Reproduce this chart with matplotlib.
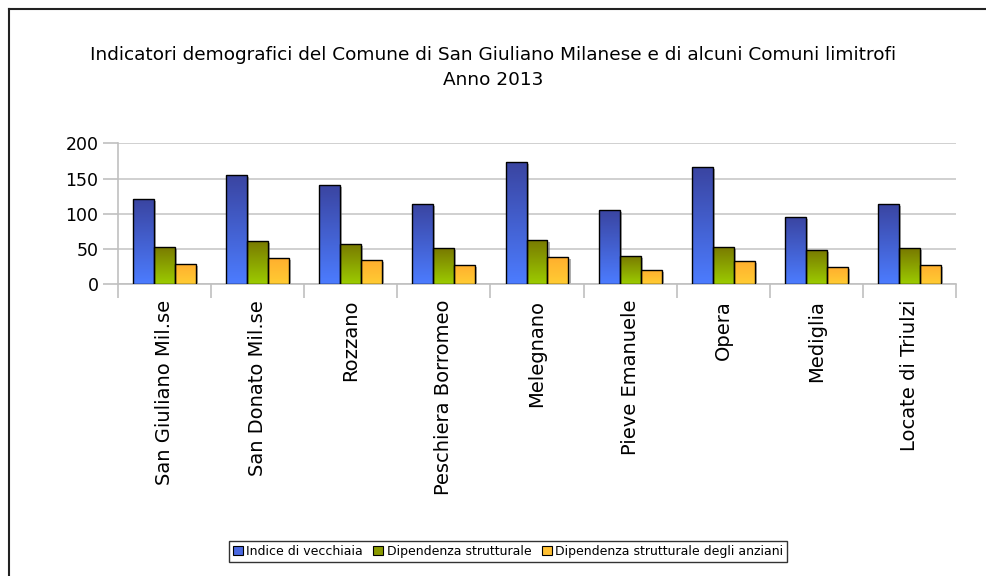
import numpy as np
import matplotlib
matplotlib.use("Agg")
import matplotlib.pyplot as plt
from matplotlib.colors import LinearSegmentedColormap
from matplotlib.patches import Patch
from matplotlib.lines import Line2D
import matplotlib.patheffects as pe

categories = ["San Giuliano Mil.se", "San Donato Mil.se", "Rozzano", "Peschiera Borromeo",
              "Melegnano", "Pieve Emanuele", "Opera", "Mediglia", "Locate di Triulzi"]
series_names = ["Indice di vecchiaia", "Dipendenza strutturale",
                "Dipendenza strutturale degli anziani"]
vecchiaia = [121, 155.5, 140.5, 114, 173.5, 105.5, 166.5, 95.5, 113.5]
dipendenza = [52.5, 61.5, 57.5, 51, 62.5, 40, 53.5, 48.5, 51]
anziani = [29, 37.5, 34, 27, 39, 20.5, 33.5, 24, 27]
yticks = [0, 50, 100, 150, 200]
title = "Indicatori demografici del Comune di San Giuliano Milanese e di alcuni Comuni limitrofi\nAnno 2013"

grad_colors = [("#3a44a0", "#4c7cff"), ("#787800", "#9ccc00"), ("#ffae2e", "#ffcc33")]
legend_colors = ["#4a68e0", "#8a9a00", "#ffc033"]

fig = plt.figure(figsize=(9.86, 5.76), dpi=100)
ax = fig.add_axes([118 / 986, 1 - 284.3 / 576, 838 / 986, 141 / 576])

n = len(categories)
x = np.arange(n)
bw = 0.225
series = [vecchiaia, dipendenza, anziani]
for i, vals in enumerate(series):
    cmap = LinearSegmentedColormap.from_list("g%d" % i, [grad_colors[i][1], grad_colors[i][0]])
    pos = x + (i - 1) * bw
    # shadow layer
    ax.bar(pos, vals, width=bw, color="none", edgecolor="none", zorder=2,
           path_effects=[pe.SimplePatchShadow(offset=(1.5, -1.5), shadow_rgbFace="#777777", alpha=0.6)])
    bars = ax.bar(pos, vals, width=bw, color="none", edgecolor="black",
                  linewidth=1.0, zorder=5)
    for b in bars:
        x0, y0 = b.get_x(), b.get_y()
        w, h = b.get_width(), b.get_height()
        grad = np.linspace(0, 1, 256).reshape(-1, 1)
        im = ax.imshow(grad, cmap=cmap, origin="lower", aspect="auto",
                       extent=[x0, x0 + w, y0, y0 + h], zorder=3, interpolation="bilinear")
        im.set_clip_path(b)

ax.set_xlim(-0.5, n - 0.5)
ax.set_ylim(0, 200)
ax.set_yticks(yticks)
ax.set_yticklabels([str(t) for t in yticks], fontsize=12.5)
ax.yaxis.grid(True, color="#c8c8c8", linewidth=1.2, zorder=0)
ax.set_axisbelow(True)
ax.tick_params(axis="y", length=11, color="#c0c0c0", width=1.2, pad=3)

ax.set_xticks(np.arange(n + 1) - 0.5, minor=False)
ax.set_xticklabels([""] * (n + 1))
ax.tick_params(axis="x", length=10, color="#c0c0c0", width=1.2)
for xi, lab in zip(x, categories):
    ax.text(xi, -22, lab, rotation=90, ha="center", va="top", fontsize=14)

for s in ["top", "right"]:
    ax.spines[s].set_visible(False)
for s in ["left", "bottom"]:
    ax.spines[s].set_color("#c0c0c0")
    ax.spines[s].set_linewidth(1.2)

fig.text(0.5, 1 - 67.5 / 576, title, ha="center", va="center", fontsize=13.3, linespacing=1.45)

handles = [Patch(facecolor=c, edgecolor="black", linewidth=0.8) for c in legend_colors]
leg = fig.legend(handles, series_names, loc="center", bbox_to_anchor=(508 / 986, 1 - 551.5 / 576),
                 ncol=3, fontsize=9, frameon=True, fancybox=False, handlelength=0.8,
                 handleheight=0.8, handletextpad=0.3, columnspacing=0.8, borderpad=0.3)
leg.get_frame().set_edgecolor("black")
leg.get_frame().set_linewidth(1.0)

fig.add_artist(Line2D([9 / 986, 1], [1 - 9 / 576, 1 - 9 / 576], color="#222222", linewidth=1.5))
fig.add_artist(Line2D([9 / 986, 9 / 986], [0, 1 - 9 / 576], color="#222222", linewidth=1.5))

fig.savefig("out.png", dpi=100)
